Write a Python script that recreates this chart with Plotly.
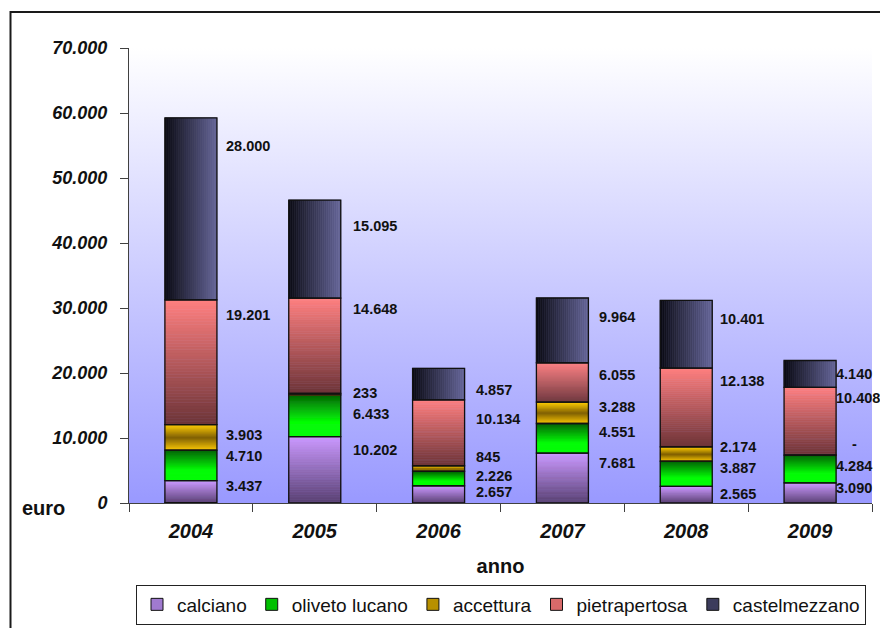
import base64
import plotly.graph_objects as go

# ---- data -------------------------------------------------------------
years = ["2004", "2005", "2006", "2007", "2008", "2009"]
calciano = [3437, 10202, 2657, 7681, 2565, 3090]
oliveto_lucano = [4710, 6433, 2226, 4551, 3887, 4284]
accettura = [3903, 233, 845, 3288, 2174, 0]
pietrapertosa = [19201, 14648, 10134, 6055, 12138, 10408]
castelmezzano = [28000, 15095, 4857, 9964, 10401, 4140]

y_tick_vals = [0, 10000, 20000, 30000, 40000, 50000, 60000, 70000]
y_tick_text = ["0", "10.000", "20.000", "30.000", "40.000", "50.000", "60.000", "70.000"]

series_names = ["calciano", "oliveto lucano", "accettura", "pietrapertosa", "castelmezzano"]
series_values = [calciano, oliveto_lucano, accettura, pietrapertosa, castelmezzano]

# ---- styling ------------------------------------------------------------
W, H = 880, 628
M_L, M_R, M_T, M_B = 129, 8, 48, 125
PW, PH = W - M_L - M_R, H - M_T - M_B
FONT = "Liberation Sans, Arial, Helvetica, sans-serif"
BAR_W = 0.42

# gradient stops (position 0 = top / left, 1 = bottom / right)
gradients = {
    "calciano": ("v", [(0.0, "#cc99ff"), (1.0, "#584070")]),
    "oliveto lucano": ("v", [(0.0, "#006400"), (0.65, "#00ff00"), (1.0, "#00ff00")]),
    "accettura": ("v", [(0.0, "#ffcc00"), (0.5, "#806000"), (1.0, "#ffcc00")]),
    "pietrapertosa": ("v", [(0.0, "#ff8080"), (1.0, "#6c3438")]),
    "castelmezzano": ("h", [(0.0, "#0a0a12"), (1.0, "#666699")]),
}
legend_colors = {
    "calciano": "#a07ad0",
    "oliveto lucano": "#00c000",
    "accettura": "#b89000",
    "pietrapertosa": "#d86a6a",
    "castelmezzano": "#3c3c5c",
}

# label nudges in pixels (vertical shift from segment middle), per series / year
label_yshift = [
    [6, 20, 2, 15, 1, 5],
    [9, 2, 3, 6, 6, 3],
    [2, 1, 12, 6, 7, 11],
    [47, 37, 14, 7, 26, 23],
    [63, 23, -6, 13, 15, 0],
]
label_gap = [7, 10, 9, 9, 6, -2]


def hex_rgb(h):
    h = h.lstrip("#")
    return tuple(int(h[i:i + 2], 16) for i in (0, 2, 4))


def color_at(stops, t):
    for (p0, c0), (p1, c1) in zip(stops, stops[1:]):
        if p0 <= t <= p1:
            f = 0 if p1 == p0 else (t - p0) / (p1 - p0)
            a, b = hex_rgb(c0), hex_rgb(c1)
            r = [round(a[k] + (b[k] - a[k]) * f) for k in range(3)]
            return "rgb(%d,%d,%d)" % tuple(r)
    return stops[-1][1]


def fmt(v):
    return "-" if v == 0 else f"{v:,}".replace(",", ".")


fig = go.Figure()

# stacked bottoms
bottoms = []
running = [0] * len(years)
for vals in series_values:
    bottoms.append(list(running))
    running = [r + v for r, v in zip(running, vals)]

N_V = 40
N_H = 26
for name, vals, base in zip(series_names, series_values, bottoms):
    direction, stops = gradients[name]
    if direction == "v":
        for i in range(N_V):
            # slice i counted from the bottom
            t = 1 - (i + 0.5) / N_V
            col = color_at(stops, t)
            fig.add_trace(go.Bar(
                x=years,
                y=[v / N_V for v in vals],
                base=[b + v * i / N_V for b, v in zip(base, vals)],
                width=BAR_W,
                marker=dict(color=col, line=dict(color=col, width=0.6)),
                showlegend=False, hoverinfo="skip",
            ))
    else:
        for i in range(N_H):
            t = (i + 0.5) / N_H
            col = color_at(stops, t)
            fig.add_trace(go.Bar(
                x=years,
                y=vals,
                base=base,
                width=BAR_W / N_H,
                offset=-BAR_W / 2 + i * BAR_W / N_H,
                marker=dict(color=col, line=dict(color=col, width=0.6)),
                showlegend=False, hoverinfo="skip",
            ))

# black outlines of every segment
for name, vals, base in zip(series_names, series_values, bottoms):
    fig.add_trace(go.Bar(
        x=years, y=vals, base=base, width=BAR_W,
        marker=dict(color="rgba(0,0,0,0)", line=dict(color="#111111", width=1.3)),
        showlegend=False, hovertemplate=name + " %{x}: %{y}<extra></extra>",
    ))

# legend entries
for name in series_names:
    fig.add_trace(go.Bar(
        x=[years[0]], y=[0], base=[0], width=BAR_W, name=name,
        marker=dict(color=legend_colors[name], line=dict(color="#111111", width=1)),
        showlegend=True, hoverinfo="skip",
    ))

# value labels beside each segment (x given as category index)
half_px = BAR_W * PW / len(years) / 2
annotations = []
for si, (vals, base) in enumerate(zip(series_values, bottoms)):
    for yi in range(len(years)):
        v = vals[yi]
        txt = fmt(v)
        extra = 16 if v == 0 else 0
        annotations.append(dict(
            x=yi, y=base[yi] + v / 2, xref="x", yref="y",
            text=txt, showarrow=False, xanchor="left", yanchor="middle",
            xshift=half_px + label_gap[yi] + extra, yshift=label_yshift[si][yi],
            font=dict(family=FONT, size=14.5, color="#111111", weight="bold"),
        ))

annotations.append(dict(
    x=0, y=0, xref="paper", yref="y", text="euro", showarrow=False,
    xanchor="left", yanchor="middle", xshift=-(M_L - 20), yshift=-5,
    font=dict(family=FONT, size=20, color="#111111", weight="bold"),
))

# plot-area background: white fading to lavender
svg = (
    '<svg xmlns="http://www.w3.org/2000/svg" width="100" height="100" '
    'viewBox="0 0 100 100" preserveAspectRatio="none">'
    '<defs><linearGradient id="g" x1="0" y1="0" x2="0" y2="1">'
    '<stop offset="0" stop-color="#ffffff"/>'
    '<stop offset="1" stop-color="#9999ff"/>'
    '</linearGradient></defs>'
    '<rect x="0" y="0" width="100" height="100" fill="url(#g)"/></svg>'
)
bg_src = "data:image/svg+xml;base64," + base64.b64encode(svg.encode()).decode()


def px_x(px):
    return (px - M_L) / PW


def px_y(py):
    return 1 - (py - M_T) / PH


fig.update_layout(
    width=W, height=H,
    margin=dict(l=M_L, r=M_R, t=M_T, b=M_B, autoexpand=False),
    paper_bgcolor="white",
    plot_bgcolor="rgba(0,0,0,0)",
    barmode="overlay",
    font=dict(family=FONT, color="#111111"),
    images=[dict(source=bg_src, xref="paper", yref="paper", x=0, y=1,
                 sizex=1, sizey=1, xanchor="left", yanchor="top",
                 sizing="stretch", layer="below")],
    shapes=[dict(type="rect", xref="paper", yref="paper",
                 x0=px_x(10.5), x1=px_x(900), y0=px_y(12), y1=px_y(660),
                 line=dict(color="#1a1a1a", width=2), fillcolor="rgba(0,0,0,0)")],
    annotations=annotations,
    legend=dict(
        orientation="h", x=px_x(136), y=px_y(584.5), xanchor="left", yanchor="top",
        bordercolor="#222222", borderwidth=1, bgcolor="white",
        font=dict(family=FONT, size=19, color="#111111"),
        traceorder="normal",
    ),
    xaxis=dict(
        type="category", tickson="boundaries", ticks="outside", ticklen=8,
        tickcolor="#404040", showline=True, linecolor="#404040", linewidth=1,
        showgrid=False, range=[-0.5, 5.5], ticklabelstandoff=10,
        tickfont=dict(family=FONT, size=20, color="#111111", weight="bold", style="italic"),
        title=dict(text="anno", standoff=17,
                   font=dict(family=FONT, size=20, color="#111111", weight="bold")),
    ),
    yaxis=dict(
        range=[0, 70000], tickvals=y_tick_vals, ticktext=y_tick_text,
        ticks="outside", ticklen=8, tickcolor="#404040", showline=True,
        linecolor="#404040", linewidth=1, showgrid=False, zeroline=False,
        ticklabelstandoff=9,
        tickfont=dict(family=FONT, size=18, color="#111111", weight="bold", style="italic"),
    ),
)

fig.write_html("out.html")
